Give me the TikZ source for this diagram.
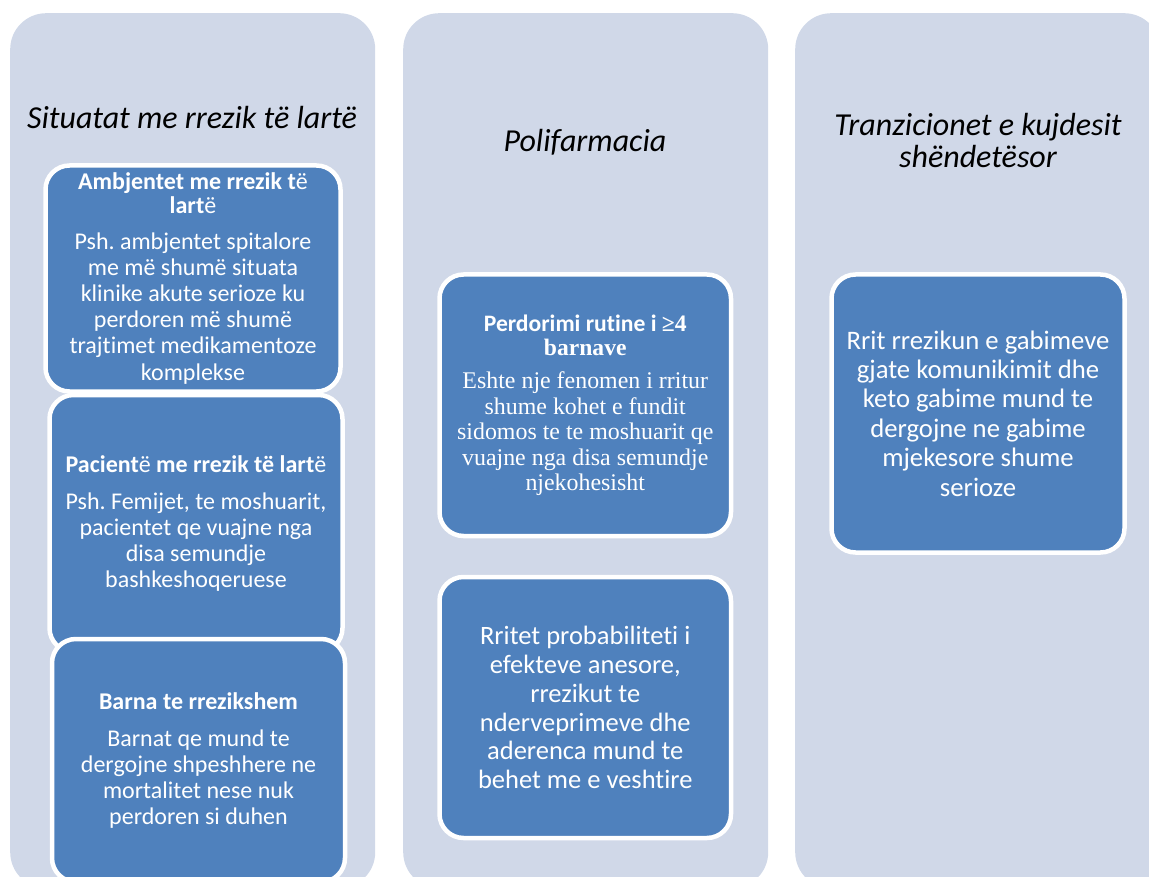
\documentclass[tikz,border=0pt]{standalone}
\usepackage{fontspec}
\setmainfont[Ligatures=NoCommon]{Carlito}
\newfontfamily\timesfont{Liberation Serif}
\definecolor{colbg}{HTML}{D0D8E8}
\definecolor{boxblue}{HTML}{4F81BD}
\frenchspacing

\begin{document}
\begin{tikzpicture}[x=1pt,y=-1pt]
  \useasboundingbox (0,0) rectangle (1149,877);
  \begin{scope}[
    every node/.style={
      fill=colbg,
      rounded corners=36pt,
      anchor=north west,
      inner sep=0pt,
      minimum width=365pt,
      minimum height=875pt,
    },
    ]
    \node (col1) at (10,13)  {};
    \node (col2) at (403,13) {};
    \node (col3) at (795,13) {};
  \end{scope}
  \begin{scope}[
    every node/.style={
      align=center,
      font=\itshape\fontsize{32}{32}\selectfont,
    },
    ]
    \node (title1) at (192,118) {Situatat me rrezik të lartë};
    \node (title2) at (585,142) {Polifarmacia};
    \node (title3) at (978,141) {Tranzicionet e kujdesit\\shëndetësor};
  \end{scope}
  \begin{scope}[
    every node/.style={
      draw=white,
      line width=4.5pt,
      fill=boxblue,
      rounded corners=24pt,
      text=white,
      anchor=north west,
      outer sep=0pt,
      inner sep=0pt,
      text width=286pt,
      align=flush center,
      font=\fontsize{24}{26.2}\selectfont,
    },
    ]
    \node[minimum width=295pt, minimum height=226pt] (riskenv) at (45.5,165.5) {%
      {\bfseries\fontsize{24}{24}\selectfont Ambjentet me rrezik t{\mdseries ë}\\lart{\mdseries ë}\par}
      \vspace{9pt}
      Psh. ambjentet spitalore\\me më shumë situata\\klinike akute serioze ku\\perdoren më shumë\\trajtimet medikamentoze\\komplekse};
    \node[minimum width=293pt, minimum height=257pt] (riskpat) at (49.5,395) {%
      {\bfseries Pacient{\mdseries ë} me rrezik të lart{\mdseries ë}\par}
      \vspace{11pt}
      Psh. Femijet, te moshuarit,\\pacientet qe vuajne nga\\disa semundje\\bashkeshoqeruese};
    \node[minimum width=293pt, minimum height=243pt] (riskdrug) at (52,639) {%
      {\bfseries Barna te rrezikshem\par}
      \vspace{11pt}
      Barnat qe mund te\\dergojne shpeshhere ne\\mortalitet nese nuk\\perdoren si duhen};
    \node[minimum width=291.5pt, minimum height=261.5pt] (routine) at (439.5,274.5) {%
      {\bfseries\fontsize{23.6}{24}\selectfont Perdorimi rutine i {\timesfont ≥4}\\{\timesfont barnave}\par}
      \vspace{8pt}
      {\timesfont\fontsize{23.9}{25.5}\selectfont Eshte nje fenomen i rritur\\shume kohet e fundit\\sidomos te te moshuarit qe\\vuajne nga disa semundje\\njekohesisht\par}};
    \node[minimum width=291.5pt, minimum height=261pt,
      font=\fontsize{26.5}{28.8}\selectfont] (sideeff) at (439.5,577) {%
      Rritet probabiliteti i\\efekteve anesore,\\rrezikut te\\nderveprimeve dhe\\aderenca mund te\\behet me e veshtire};
    \node[minimum width=293pt, minimum height=278pt,
      font=\fontsize{26.7}{29.4}\selectfont] (transit) at (831.5,274.5) {%
      Rrit rrezikun e gabimeve\\gjate komunikimit dhe\\keto gabime mund te\\dergojne ne gabime\\mjekesore shume\\serioze};
  \end{scope}
\end{tikzpicture}
\end{document}
